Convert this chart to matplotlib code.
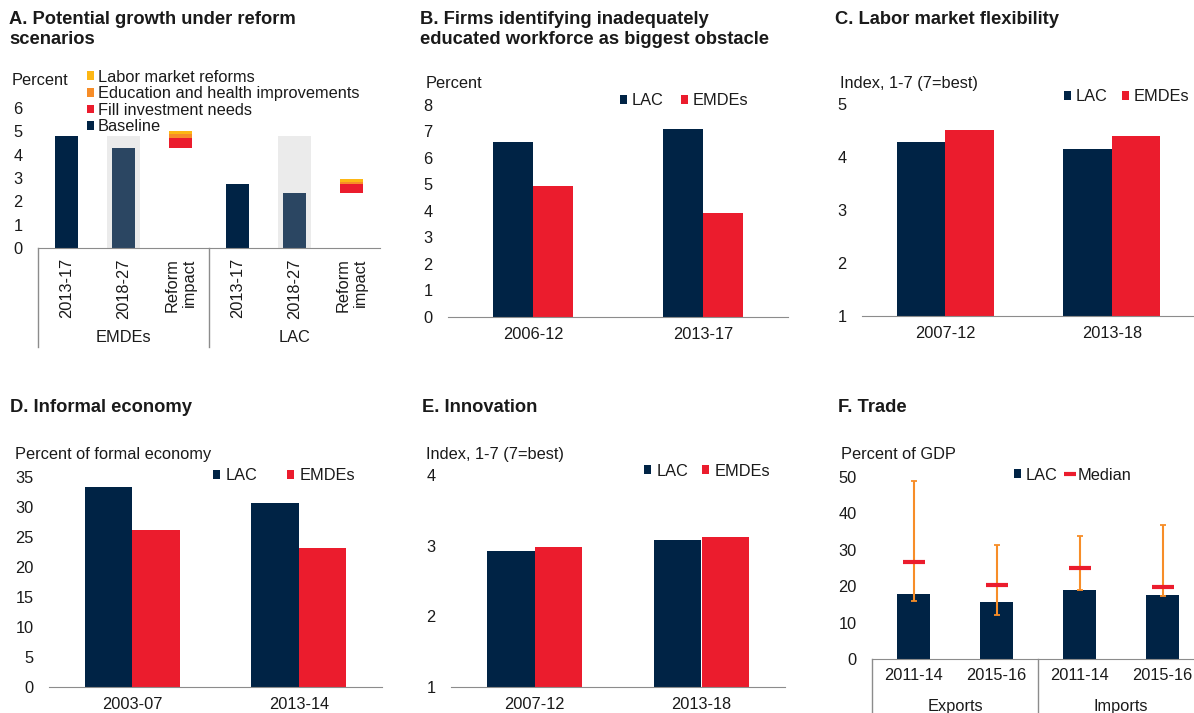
import numpy as np
import matplotlib
matplotlib.use('Agg')
import matplotlib.pyplot as plt

plt.rcParams['font.family'] = ['Liberation Sans', 'DejaVu Sans']

W, H = 1194, 713
FS = 11.8
NAVY = '#002345'
SLATE = '#2b4662'
RED = '#eb1c2d'
ORANGE = '#f78d28'
YELLOW = '#fdb714'
SHADE = '#ebebeb'
GREY = '#8c8c8c'
INK = '#1a1a1a'

# A. Potential growth under reform scenarios
growth_cats = ['2013-17', '2018-27', 'Reform\nimpact', '2013-17', '2018-27', 'Reform\nimpact']
growth_groups = ['EMDEs', 'LAC']
growth_baseline = [4.8, 4.3, 0, 2.75, 2.37, 0]
growth_invest = [0, 0, 0.43, 0, 0, 0.36]
growth_educ = [0, 0, 0.15, 0, 0, 0.08]
growth_labor = [0, 0, 0.14, 0, 0, 0.13]
growth_shade = [0, 4.8, 0, 0, 4.78, 0]

# B. Firms identifying inadequately educated workforce
firms_cats = ['2006-12', '2013-17']
firms_lac = [6.6, 7.1]
firms_emde = [4.95, 3.9]

# C. Labor market flexibility
labor_cats = ['2007-12', '2013-18']
labor_lac = [4.28, 4.15]
labor_emde = [4.52, 4.40]

# D. Informal economy
informal_cats = ['2003-07', '2013-14']
informal_lac = [33.2, 30.7]
informal_emde = [26.2, 23.2]

# E. Innovation
innov_cats = ['2007-12', '2013-18']
innov_lac = [2.92, 3.08]
innov_emde = [2.98, 3.12]

# F. Trade
trade_cats = ['2011-14', '2015-16', '2011-14', '2015-16']
trade_groups = ['Exports', 'Imports']
trade_lac = [18.0, 15.8, 19.0, 17.5]
trade_median = [26.6, 20.4, 25.1, 19.7]
trade_min = [16.1, 12.1, 19.0, 17.4]
trade_max = [48.9, 31.2, 33.8, 36.8]

fig = plt.figure(figsize=(W / 100, H / 100), dpi=100)


def add_ax(left, top, right, bottom):
    return fig.add_axes([left / W, 1 - bottom / H, (right - left) / W, (bottom - top) / H])


def ftext(x, y, s, **kw):
    fig.text(x / W, 1 - y / H, s, color=INK, **kw)


def style(ax, ylo, yhi, step):
    ax.set_ylim(ylo, yhi)
    ax.set_yticks(np.arange(ylo, yhi + step / 2, step))
    for s in ['top', 'right', 'left']:
        ax.spines[s].set_visible(False)
    ax.spines['bottom'].set_color(GREY)
    ax.tick_params(axis='both', length=0, labelsize=FS, labelcolor=INK)
    ax.tick_params(axis='y', pad=11)
    ax.tick_params(axis='x', pad=7.3)
    ax.patch.set_visible(False)


def legend(ax, handles, labels, x, y, colsp, loc='center left', **kw):
    ax.legend(handles, labels, loc=loc, bbox_to_anchor=(x / W, 1 - y / H),
              bbox_transform=fig.transFigure, frameon=False, fontsize=FS,
              borderpad=0, borderaxespad=0, handlelength=0.43, handleheight=0.43,
              ncol=len(labels) if loc == 'center left' else 1,
              columnspacing=colsp, labelcolor=INK, **kw)


# ---------- A ----------
axA = add_ax(38, 108, 380, 248)
style(axA, 0, 6, 1)
xa = np.arange(len(growth_cats))
axA.bar(xa, growth_shade, 0.58, color=SHADE, zorder=0)
base_cols = [NAVY, SLATE, NAVY, NAVY, SLATE, NAVY]
bA = axA.bar(xa, growth_baseline, 0.4, color=base_cols, zorder=2)
start = np.array([0, 0, growth_baseline[1], 0, 0, growth_baseline[4]])
bI = axA.bar(xa, growth_invest, 0.4, bottom=start, color=RED, zorder=2)
start = start + np.array(growth_invest)
bE = axA.bar(xa, growth_educ, 0.4, bottom=start, color=ORANGE, zorder=2)
start = start + np.array(growth_educ)
bL = axA.bar(xa, growth_labor, 0.4, bottom=start, color=YELLOW, zorder=2)
axA.set_xlim(-0.5, 5.5)
axA.set_xticks(xa)
axA.set_xticklabels(growth_cats, rotation=90)
for lbl in axA.get_xticklabels():
    lbl.set_multialignment('right')
for xs in [-0.5, 2.5]:
    axA.plot([xs, xs], [0, -0.707], transform=axA.get_xaxis_transform(),
             clip_on=False, color=GREY, lw=1)
for gx, g in zip([1, 4], growth_groups):
    axA.text(gx, -0.636, g, transform=axA.get_xaxis_transform(), ha='center',
             va='center', fontsize=FS, color=INK)
legend(axA, [bL, bE, bI, bA[0]],
       ['Labor market reforms', 'Education and health improvements',
        'Fill investment needs', 'Baseline'],
       87.3, 69.5, 1, loc='upper left', labelspacing=0.1, handletextpad=0.2)
ftext(9.3, 11, 'A. Potential growth under reform\nscenarios', fontsize=13.2,
      fontweight='bold', va='top')
ftext(11.7, 85, 'Percent', fontsize=FS, va='baseline')

# ---------- B ----------
axB = add_ax(448, 105, 788, 316.7)
style(axB, 0, 8, 1)
xb = np.arange(len(firms_cats))
w = 0.235
b1 = axB.bar(xb - w / 2, firms_lac, w, color=NAVY)
b2 = axB.bar(xb + w / 2, firms_emde, w, color=RED)
axB.set_xlim(-0.5, 1.5)
axB.set_xticks(xb)
axB.set_xticklabels(firms_cats)
legend(axB, [b1, b2], ['LAC', 'EMDEs'], 620, 100.7, 1.04, handletextpad=0.3)
ftext(420, 11, 'B. Firms identifying inadequately\neducated workforce as biggest obstacle',
      fontsize=13.2, fontweight='bold', va='top')
ftext(426, 88.3, 'Percent', fontsize=FS, va='baseline')

# ---------- C ----------
axC = add_ax(862, 104.3, 1195, 315.7)
style(axC, 1, 5, 1)
xc = np.arange(len(labor_cats))
w = 0.29
b1 = axC.bar(xc - w / 2, np.array(labor_lac) - 1, w, bottom=1, color=NAVY)
b2 = axC.bar(xc + w / 2, np.array(labor_emde) - 1, w, bottom=1, color=RED)
axC.set_xlim(-0.5, 1.5)
axC.set_xticks(xc)
axC.set_xticklabels(labor_cats)
legend(axC, [b1, b2], ['LAC', 'EMDEs'], 1064, 96.7, 0.86, handletextpad=0.3)
ftext(835, 11, 'C. Labor market flexibility', fontsize=13.2, fontweight='bold', va='top')
ftext(840, 88, 'Index, 1-7 (7=best)', fontsize=FS, va='baseline')

# ---------- D ----------
axD = add_ax(49, 476.7, 382, 686.7)
style(axD, 0, 35, 5)
xd = np.arange(len(informal_cats))
w = 0.286
b1 = axD.bar(xd - w / 2, informal_lac, w, color=NAVY)
b2 = axD.bar(xd + w / 2, informal_emde, w, color=RED)
axD.set_xlim(-0.5, 1.5)
axD.set_xticks(xd)
axD.set_xticklabels(informal_cats)
legend(axD, [b1, b2], ['LAC', 'EMDEs'], 213, 475.7, 1.77, handletextpad=0.37)
ftext(10, 399, 'D. Informal economy', fontsize=13.2, fontweight='bold', va='top')
ftext(15, 459, 'Percent of formal economy', fontsize=FS, va='baseline')

# ---------- E ----------
axE = add_ax(451, 475, 785, 686.7)
style(axE, 1, 4, 1)
xe = np.arange(len(innov_cats))
w = 0.286
b1 = axE.bar(xe - w / 2, np.array(innov_lac) - 1, w, bottom=1, color=NAVY)
b2 = axE.bar(xe + w / 2, np.array(innov_emde) - 1, w, bottom=1, color=RED)
axE.set_xlim(-0.5, 1.5)
axE.set_xticks(xe)
axE.set_xticklabels(innov_cats)
legend(axE, [b1, b2], ['LAC', 'EMDEs'], 644, 471, 0.82, handletextpad=0.35)
ftext(421.7, 399, 'E. Innovation', fontsize=13.2, fontweight='bold', va='top')
ftext(426, 459, 'Index, 1-7 (7=best)', fontsize=FS, va='baseline')

# ---------- F ----------
axF = add_ax(872, 476.7, 1204, 659.3)
style(axF, 0, 50, 10)
xf = np.arange(len(trade_cats))
med = np.array(trade_median)
bf = axF.bar(xf, trade_lac, 0.4, color=NAVY, zorder=2)
axF.errorbar(xf, med, yerr=[med - np.array(trade_min), np.array(trade_max) - med],
             fmt='none', ecolor=ORANGE, elinewidth=1.5, capsize=2.2, capthick=1.3, zorder=3)
mf, = axF.plot(xf, med, ls='none', marker='_', ms=16, mew=3, color=RED, zorder=4)
axF.set_xlim(-0.5, 3.5)
axF.set_xticks(xf)
axF.set_xticklabels(trade_cats)
axF.tick_params(axis='x', pad=6.6)
for xs in [-0.5, 1.5]:
    axF.plot([xs, xs], [0, -0.35], transform=axF.get_xaxis_transform(),
             clip_on=False, color=GREY, lw=1)
for gx, g in zip([0.5, 2.5], trade_groups):
    axF.text(gx, -0.261, g, transform=axF.get_xaxis_transform(), ha='center',
             va='center', fontsize=FS, color=INK)
legend(axF, [bf, mf], ['LAC', 'Median'], 1014, 475, 0.5, handletextpad=0.3,
       markerscale=0.5)
ftext(838, 399, 'F. Trade', fontsize=13.2, fontweight='bold', va='top')
ftext(840.7, 459, 'Percent of GDP', fontsize=FS, va='baseline')

fig.savefig('out.png', dpi=100)
